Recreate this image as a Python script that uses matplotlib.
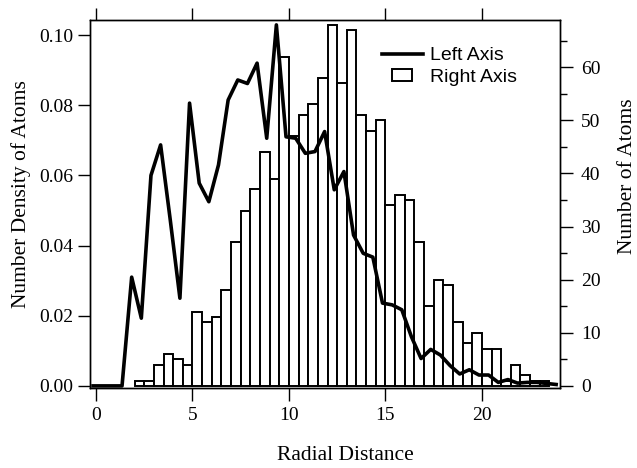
import matplotlib
matplotlib.use("Agg")
import matplotlib.pyplot as plt
from matplotlib.patches import Rectangle
from matplotlib.lines import Line2D
from matplotlib.legend_handler import HandlerPatch
from matplotlib.ticker import MultipleLocator, FormatStrFormatter

# histogram of atom counts (right axis), bins of width 0.5
bin_left = [2.0, 2.5, 3.0, 3.5, 4.0, 4.5, 5.0, 5.5, 6.0, 6.5,
            7.0, 7.5, 8.0, 8.5, 9.0, 9.5, 10.0, 10.5, 11.0, 11.5,
            12.0, 12.5, 13.0, 13.5, 14.0, 14.5, 15.0, 15.5, 16.0, 16.5,
            17.0, 17.5, 18.0, 18.5, 19.0, 19.5, 20.0, 20.5, 21.0, 21.5,
            22.0, 22.5, 23.0]
atom_counts = [1, 1, 4, 6, 5, 4, 14, 12, 13, 18,
               27, 33, 37, 44, 39, 62, 47, 51, 53, 58,
               68, 57, 67, 51, 48, 50, 34, 36, 35, 27,
               15, 20, 19, 12, 8, 10, 7, 7, 1, 4,
               2, 1, 1]

# number density (left axis)
radius = [-0.15, 0.35, 0.85, 1.35, 1.85, 2.35, 2.85, 3.35, 3.85, 4.35,
          4.85, 5.35, 5.85, 6.35, 6.85, 7.35, 7.85, 8.35, 8.85, 9.35,
          9.85, 10.35, 10.85, 11.35, 11.85, 12.35, 12.85, 13.35, 13.85, 14.35,
          14.85, 15.35, 15.85, 16.35, 16.85, 17.35, 17.85, 18.35, 18.85, 19.35,
          19.85, 20.35, 20.85, 21.35, 21.85, 22.35, 22.85, 23.35, 23.85]
density = [0.0, 0.0, 0.0, 0.0, 0.031, 0.0193, 0.060, 0.0687, 0.0473, 0.025,
           0.0806, 0.0578, 0.0525, 0.063, 0.0815, 0.0872, 0.0862, 0.092, 0.0706, 0.1029,
           0.071, 0.0706, 0.0663, 0.0668, 0.0725, 0.0559, 0.0611, 0.043, 0.0378, 0.0367,
           0.0236, 0.0231, 0.0217, 0.014, 0.0078, 0.0104, 0.0088, 0.0058, 0.0034, 0.0046,
           0.0031, 0.0031, 0.001, 0.0018, 0.0008, 0.001, 0.001, 0.0007, 0.0004]

serif = "Liberation Serif"
sans = "Liberation Sans"

fig = plt.figure(figsize=(6.37, 4.68), dpi=100)
ax = fig.add_axes([90 / 637, 80 / 468, 470 / 637, 368 / 468])
ax2 = ax.twinx()

ax2.bar(bin_left, atom_counts, width=0.5, align="edge", color="white",
        edgecolor="black", linewidth=1.4)
ax.plot(radius, density, color="black", lw=2.6)

# line on top of the bars
ax.set_zorder(ax2.get_zorder() + 1)
ax.patch.set_visible(False)

ax.set_xlim(-0.31, 24.05)
ax.set_ylim(-0.0006, 0.1043)
ax2.set_ylim(-0.4, 68.9)

ax.set_xticks([0, 5, 10, 15, 20])
ax.set_yticks([0.0, 0.02, 0.04, 0.06, 0.08, 0.10])
ax.yaxis.set_major_formatter(FormatStrFormatter("%.2f"))
ax2.set_yticks([0, 10, 20, 30, 40, 50, 60])
ax2.yaxis.set_minor_locator(MultipleLocator(5))

ax.xaxis.set_ticks_position("both")
ax.tick_params(axis="x", which="major", direction="out", length=9, width=1, pad=5)
ax.tick_params(axis="y", which="major", direction="out", length=9, width=1, pad=3)
ax2.tick_params(axis="y", which="major", direction="out", length=9, width=1, pad=6)
ax2.tick_params(axis="y", which="minor", direction="out", length=5, width=1)

for lab in ax.get_xticklabels() + ax.get_yticklabels() + ax2.get_yticklabels():
    lab.set_fontfamily(serif)
    lab.set_fontsize(14)

for a in (ax, ax2):
    for s in a.spines.values():
        s.set_linewidth(1.0)

ax.set_ylabel("Number Density of Atoms", fontfamily=serif, fontsize=15.5)
ax2.set_ylabel("Number of Atoms", fontfamily=serif, fontsize=15.5)
ax.set_xlabel("Radial Distance", fontfamily=serif, fontsize=15.5)
ax.yaxis.set_label_coords(-0.125, 0.527)
ax2.yaxis.set_label_coords(1.123, 0.576)
ax.xaxis.set_label_coords(0.543, -0.158)


def small_rect(legend, orig_handle, xdescent, ydescent, width, height, fontsize):
    w = width * 0.5
    h = height * 0.9
    return Rectangle((-xdescent + (width - w) / 2, -ydescent + (height - h) / 2), w, h)


line_handle = Line2D([], [], color="black", lw=2.6)
bar_handle = Rectangle((0, 0), 1, 1, facecolor="white", edgecolor="black", linewidth=1.4)
ax.legend([line_handle, bar_handle], ["Left Axis", "Right Axis"],
          loc="upper left", bbox_to_anchor=((372 - 90) / 470, (388 - 37) / 368),
          frameon=False, borderpad=0, handlelength=2.1, handletextpad=0.4,
          labelspacing=0.2, prop={"family": sans, "size": 14},
          handler_map={Rectangle: HandlerPatch(patch_func=small_rect)})

fig.savefig("out.png", dpi=100)
